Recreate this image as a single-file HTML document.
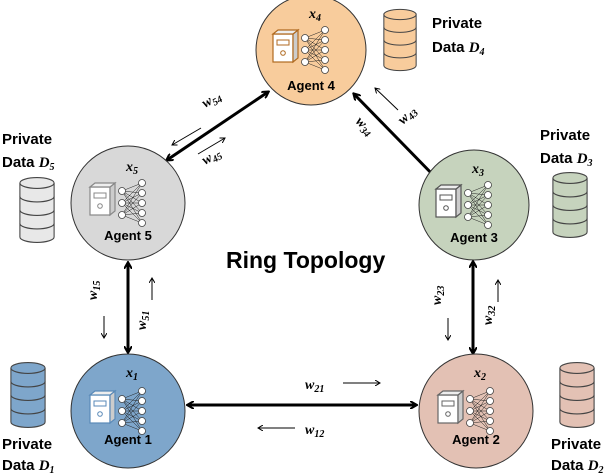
<!DOCTYPE html>
<html><head><style>
body{margin:0;background:#fff}
svg{display:block;font-family:"Liberation Sans",sans-serif}
.lab{font-weight:bold;font-size:13px}
.it{font-family:"Liberation Serif",serif;font-style:italic;font-weight:bold}
</style></head><body>
<svg width="610" height="474" viewBox="0 0 610 474">
<defs>
<marker id="ah" markerWidth="8" markerHeight="8" refX="6" refY="4" orient="auto-start-reverse" markerUnits="userSpaceOnUse"><path d="M0,0 L7,4 L0,8" fill="none" stroke="#000" stroke-width="2"/></marker>
<marker id="sa" markerWidth="6" markerHeight="6" refX="5" refY="3" orient="auto" markerUnits="userSpaceOnUse"><path d="M0,0 L5,3 L0,6" fill="none" stroke="#000" stroke-width="1"/></marker>
<g id="net" stroke="#222" stroke-width="0.5">
<path d="M-6,-12L14,-20M-6,-12L14,-10M-6,-12L14,0M-6,-12L14,10M-6,-12L14,20M-6,0L14,-20M-6,0L14,-10M-6,0L14,0M-6,0L14,10M-6,0L14,20M-6,12L14,-20M-6,12L14,-10M-6,12L14,0M-6,12L14,10M-6,12L14,20"/>
<g fill="#fff" stroke="#444" stroke-width="0.8"><circle cx="-6" cy="-12" r="3.5"/><circle cx="-6" cy="0" r="3.5"/><circle cx="-6" cy="12" r="3.5"/><circle cx="14" cy="-20" r="3.5"/><circle cx="14" cy="-10" r="3.5"/><circle cx="14" cy="0" r="3.5"/><circle cx="14" cy="10" r="3.5"/><circle cx="14" cy="20" r="3.5"/></g>
</g>
<g id="srv"><rect x="-38" y="-16" width="20" height="28" fill="#fff"/><path d="M-18,-16 l5,-4 v28 l-5,4z" fill="#ccc"/><path d="M-38,-16 l5,-4 h20 l-5,4z" fill="#eee"/><rect x="-34" y="-10" width="12" height="5" fill="none" stroke-width="1"/><circle cx="-28" cy="3" r="2.3" fill="none" stroke-width="1"/></g>
<g id="db"><path d="M-19,-30 v60 a19,6 0 0 0 38,0 v-60" /><ellipse cx="0" cy="-30" rx="19" ry="6"/><path d="M-19,-15 a19,6 0 0 0 38,0 M-19,0 a19,6 0 0 0 38,0 M-19,15 a19,6 0 0 0 38,0" fill="none"/></g>
</defs>

<g stroke="#000" stroke-width="3" marker-start="url(#ah)" marker-end="url(#ah)">
<line x1="188" y1="405" x2="416" y2="405"/>
<line x1="128" y1="263" x2="128" y2="352"/>
<line x1="473" y1="262" x2="473" y2="353"/>
<line x1="167" y1="160" x2="268" y2="92"/>
<line x1="354" y1="94" x2="438" y2="180"/>
</g>
<g stroke="#000" stroke-width="1" marker-end="url(#sa)">
<line x1="343" y1="383" x2="380" y2="383"/>
<line x1="295" y1="428" x2="258" y2="428"/>
<line x1="104" y1="316" x2="104" y2="338"/>
<line x1="152" y1="300" x2="152" y2="278"/>
<line x1="448" y1="318" x2="448" y2="340"/>
<line x1="498" y1="302" x2="498" y2="280"/>
<line x1="201" y1="128" x2="172" y2="145"/>
<line x1="198" y1="154" x2="225" y2="138"/>
<line x1="398" y1="110" x2="375" y2="88"/>
</g>
<g font-size="14" class="it">
<text x="305" y="389">w<tspan font-size="10" dy="3">21</tspan></text>
<text x="305" y="434">w<tspan font-size="10" dy="3">12</tspan></text>
<text transform="translate(97,300) rotate(-90)">w<tspan font-size="10" dy="3">15</tspan></text>
<text transform="translate(146,330) rotate(-90)">w<tspan font-size="10" dy="3">51</tspan></text>
<text transform="translate(441,305) rotate(-90)">w<tspan font-size="10" dy="3">23</tspan></text>
<text transform="translate(492,325) rotate(-90)">w<tspan font-size="10" dy="3">32</tspan></text>
<text transform="translate(205,108) rotate(-30)">w<tspan font-size="10" dy="3">54</tspan></text>
<text transform="translate(205,165) rotate(-30)">w<tspan font-size="10" dy="3">45</tspan></text>
<text transform="translate(355,122) rotate(45)">w<tspan font-size="10" dy="3">34</tspan></text>
<text transform="translate(403,125) rotate(-45)">w<tspan font-size="10" dy="3">43</tspan></text>
</g>

<g transform="translate(311,50)"><circle r="55" fill="#f8cc9c" stroke="#333" stroke-width="1"/><g stroke="#b06a20" stroke-width="1.2"><use href="#srv"/></g><use href="#net"/><text x="-2" y="-32" class="it" font-size="14">x<tspan font-size="10" dy="3">4</tspan></text><text x="0" y="40" text-anchor="middle" class="lab">Agent 4</text></g>
<g transform="translate(128,203)"><circle r="57" fill="#d8d8d8" stroke="#333" stroke-width="1"/><g stroke="#888" stroke-width="1.2"><use href="#srv"/></g><use href="#net"/><text x="-2" y="-32" class="it" font-size="14">x<tspan font-size="10" dy="3">5</tspan></text><text x="0" y="37" text-anchor="middle" class="lab">Agent 5</text></g>
<g transform="translate(474,205)"><circle r="55" fill="#c6d3bd" stroke="#333" stroke-width="1"/><g stroke="#555" stroke-width="1.2"><use href="#srv"/></g><use href="#net"/><text x="-2" y="-32" class="it" font-size="14">x<tspan font-size="10" dy="3">3</tspan></text><text x="0" y="37" text-anchor="middle" class="lab">Agent 3</text></g>
<g transform="translate(128,411)"><circle r="57" fill="#7ea6cb" stroke="#333" stroke-width="1"/><g stroke="#5a8ab8" stroke-width="1.2"><use href="#srv"/></g><use href="#net"/><text x="-2" y="-34" class="it" font-size="14">x<tspan font-size="10" dy="3">1</tspan></text><text x="0" y="33" text-anchor="middle" class="lab">Agent 1</text></g>
<g transform="translate(476,411)"><circle r="57" fill="#e3c1b4" stroke="#333" stroke-width="1"/><g stroke="#666" stroke-width="1.2"><use href="#srv"/></g><use href="#net"/><text x="-2" y="-34" class="it" font-size="14">x<tspan font-size="10" dy="3">2</tspan></text><text x="0" y="33" text-anchor="middle" class="lab">Agent 2</text></g>

<g transform="translate(400,40) scale(0.85)" fill="#f8cc9c" stroke="#444" stroke-width="1.2"><use href="#db"/></g>
<g transform="translate(37,210) scale(0.9)" fill="#e8e8e8" stroke="#444" stroke-width="1.2"><use href="#db"/></g>
<g transform="translate(570,205) scale(0.9)" fill="#c6d3bd" stroke="#444" stroke-width="1.2"><use href="#db"/></g>
<g transform="translate(28,395) scale(0.9)" fill="#7ea6cb" stroke="#444" stroke-width="1.2"><use href="#db"/></g>
<g transform="translate(577,395) scale(0.9)" fill="#e3c1b4" stroke="#444" stroke-width="1.2"><use href="#db"/></g>

<g font-size="15" font-weight="bold">
<text x="432" y="28">Private</text><text x="432" y="52">Data <tspan class="it">D</tspan><tspan class="it" font-size="10" dy="3">4</tspan></text>
<text x="2" y="144">Private</text><text x="2" y="167">Data <tspan class="it">D</tspan><tspan class="it" font-size="10" dy="3">5</tspan></text>
<text x="540" y="140">Private</text><text x="540" y="163">Data <tspan class="it">D</tspan><tspan class="it" font-size="10" dy="3">3</tspan></text>
<text x="2" y="449">Private</text><text x="2" y="470">Data <tspan class="it">D</tspan><tspan class="it" font-size="10" dy="3">1</tspan></text>
<text x="551" y="449">Private</text><text x="551" y="470">Data <tspan class="it">D</tspan><tspan class="it" font-size="10" dy="3">2</tspan></text>
</g>
<text x="226" y="268" font-size="23" font-weight="bold">Ring Topology</text>
</svg>
</body></html>
